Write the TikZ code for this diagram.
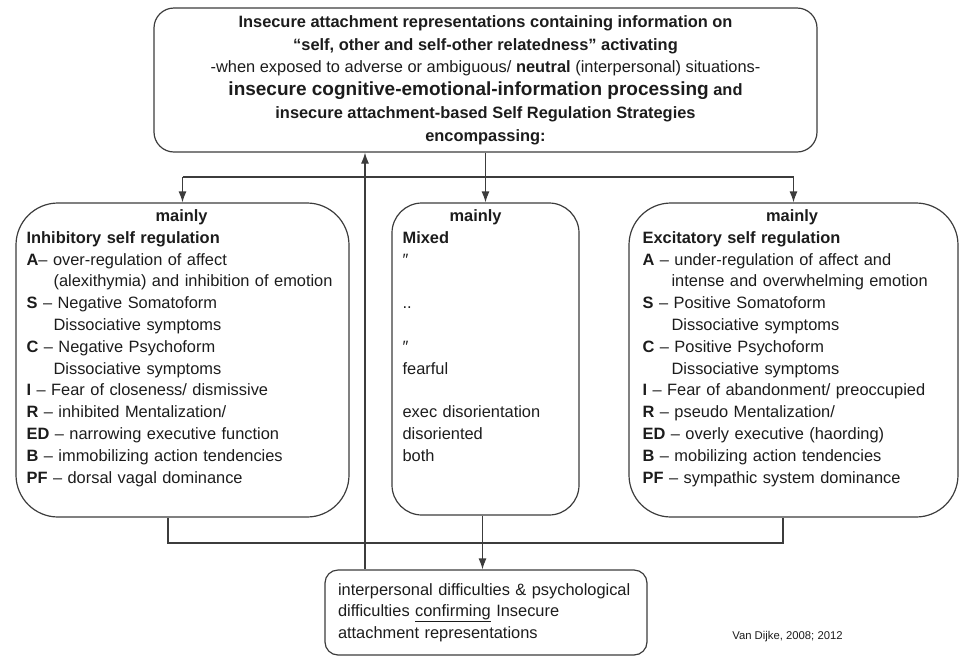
\documentclass[tikz,border=0pt]{standalone}
\usepackage{fontspec}
\setmainfont{Liberation Sans}
\usepackage{tikz}
\usetikzlibrary{
    arrows.meta,
    calc,
    positioning
}
\definecolor{linegray}{HTML}{3C3C3C}
\definecolor{inkgray}{HTML}{1C1C1C}
\newcommand{\ind}{\hspace*{27pt}}
\newcommand{\indr}{\hspace*{29pt}}

\begin{document}
\begin{tikzpicture}[x=1pt, y=-1pt,
    >={Latex[length=11pt,width=8pt]},
    conn/.style={draw=linegray, line width=1.2pt},
    regbox/.style={draw=linegray, line width=1.2pt, rounded corners=#1, inner sep=0pt},
    regbox/.default=42pt,
    bodytext/.style={anchor=north west, inner sep=0pt, align=left, text=inkgray,
        font=\fontsize{16.4}{21.8}\selectfont}]
                        \useasboundingbox (0,0) rectangle (959,657);

                        % top box
                        \node[regbox=20pt, minimum width=663pt, minimum height=144pt, align=center, text=inkgray,
                            font=\fontsize{16.4}{22.8}\selectfont] (top) at (485.5,80) {%
                            \textbf{Insecure attachment representations containing information on}\\
                            \textbf{“self, other and self-other relatedness” activating}\\
                            -when exposed to adverse or ambiguous/ \textbf{neutral} (interpersonal) situations-\\
                            {\fontsize{19}{22.8}\selectfont\bfseries insecure cognitive-emotional-information processing} \textbf{and}\\
                            \textbf{insecure attachment-based Self Regulation Strategies}\\
                            \textbf{encompassing:}};

                        % three regulation boxes
                        \node[regbox, minimum width=333pt, minimum height=314pt] (inh) at (182.5,360) {};
                        \node[regbox=30pt, minimum width=187pt, minimum height=312pt] (mix) at (485.5,359) {};
                        \node[regbox, minimum width=329pt, minimum height=314pt] (exc) at (793.5,360) {};

                        \node[bodytext, text width=310pt] (inhtxt) at ([xshift=11pt,yshift=-7pt]inh.north west) {%
                            \makebox[310pt]{\textbf{mainly}}\\
                            \textbf{Inhibitory self regulation}\\
                            \textbf{A}– over-regulation of affect\\
                            \ind(alexithymia) and inhibition of emotion\\
                            \textbf{S} – Negative Somatoform\\
                            \ind Dissociative symptoms\\
                            \textbf{C} – Negative Psychoform\\
                            \ind Dissociative symptoms\\
                            \textbf{I} – Fear of closeness/ dismissive\\
                            \textbf{R} – inhibited Mentalization/\\
                            \textbf{ED} – narrowing executive function\\
                            \textbf{B} – immobilizing action tendencies\\
                            \textbf{PF} – dorsal vagal dominance};

                        \node[bodytext, text width=146pt] (mixtxt) at ([xshift=11pt,yshift=-7pt]mix.north west) {%
                            \makebox[146pt]{\textbf{mainly}}\\
                            \textbf{Mixed}\\
                            ″\\
                            \mbox{}\\
                            ..\\
                            \mbox{}\\
                            ″\\
                            fearful\\
                            \mbox{}\\
                            exec disorientation\\
                            disoriented\\
                            both};

                        \node[bodytext, text width=299pt] (exctxt) at ([xshift=14pt,yshift=-7pt]exc.north west) {%
                            \makebox[299pt]{\textbf{mainly}}\\
                            \textbf{Excitatory self regulation}\\
                            \textbf{A} – under-regulation of affect and\\
                            \indr intense and overwhelming emotion\\
                            \textbf{S} – Positive Somatoform\\
                            \indr Dissociative symptoms\\
                            \textbf{C} – Positive Psychoform\\
                            \indr Dissociative symptoms\\
                            \textbf{I} – Fear of abandonment/ preoccupied\\
                            \textbf{R} – pseudo Mentalization/\\
                            \textbf{ED} – overly executive (haording)\\
                            \textbf{B} – mobilizing action tendencies\\
                            \textbf{PF} – sympathic system dominance};

                        % bottom box and source
                        \node[regbox=13pt, minimum height=85pt, text width=296pt, inner xsep=13pt, align=left,
                            text=inkgray, font=\fontsize{16.4}{21.5}\selectfont] (conf) at (486,612.5) {%
                            interpersonal difficulties \& psychological\\
                            difficulties \underline{confirming} Insecure\\
                            attachment representations};
                        \node[text=inkgray, font=\fontsize{11.3}{13}\selectfont, inner sep=0pt] (cite) at (787.5,637) {Van Dijke, 2008; 2012};

                        % connectors
                        \coordinate (split) at (485.5,177);
                        \coordinate (join) at (0,543);
                        \draw[conn, ->] (top.south) -- (mix.north);
                        \draw[conn] (inh.north |- split) -- (exc.north |- split);
                        \draw[conn, ->] (inh.north |- split) -- (inh.north);
                        \draw[conn, ->] (exc.north |- split) -- (exc.north);
                        \draw[conn] ([xshift=-14.5pt]inh.south) -- ([xshift=-14.5pt]inh.south |- join)
                            -- ([xshift=-10.5pt]exc.south |- join) -- ([xshift=-10.5pt]exc.south);
                        \draw[conn, ->] ([xshift=-3pt]mix.south) -- ([xshift=-3pt]mix.south |- conf.north);
                        \draw[conn, ->] ([xshift=-121pt]conf.north) -- ([xshift=-121pt]conf.north |- top.south);
                    \end{tikzpicture}
\end{document}
